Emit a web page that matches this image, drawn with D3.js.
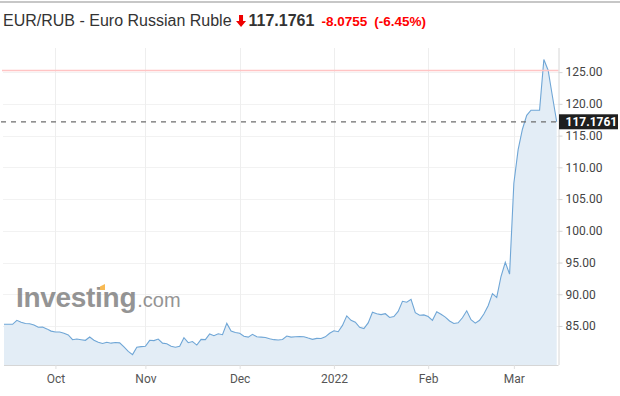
<!DOCTYPE html>
<html lang="en">
<head>
<meta charset="utf-8">
<title>EUR/RUB - Euro Russian Ruble</title>
<script src="https://cdn.jsdelivr.net/npm/d3@7"></script>
<style>
  body { margin: 0; background: #fff; }
  svg { display: block; }
</style>
</head>
<body>
<script>
// header values
var pairName = "EUR/RUB - Euro Russian Ruble";
var lastPrice = 117.1761;
var priceChange = -8.0755;
var changePct = -6.45;
var prevClose = 125.2516;

// daily closes (trading days, mid Sep 2021 -> mid Mar 2022)
var values = [
  85.27, 85.27, 85.27, 85.9, 85.6, 85.4, 85.36, 85.15, 84.8, 84.84,
  84.55, 84.2, 84.05, 84.05, 83.85, 83.6, 82.85, 82.95, 82.85, 82.75,
  83.27, 82.75, 82.45, 82.25, 82.45, 82.3, 82.4, 82.35, 81.7, 81.0,
  80.5, 81.65, 81.75, 81.8, 82.75, 82.7, 82.95, 82.3, 82.2, 81.8,
  81.65, 81.8, 83.16, 82.37, 82.55, 82.0, 82.9, 82.85, 83.75, 83.47,
  83.79, 83.63, 85.42, 84.2, 83.97, 83.85, 83.4, 83.25, 83.69, 83.3,
  83.25, 83.2, 83.0, 82.85, 82.8, 82.88, 83.43, 83.25, 83.3, 83.35,
  83.32, 83.1, 82.9, 83.05, 83.03, 83.3, 83.85, 84.26, 84.1, 85.1,
  86.6, 85.9, 85.6, 84.8, 84.6, 85.5, 87.16, 86.92, 86.8, 86.94,
  86.35, 86.5, 87.3, 88.9, 88.75, 89.2, 87.1, 86.7, 86.75, 86.5,
  85.9, 87.26, 86.85, 86.4, 85.8, 85.4, 85.5, 86.3, 87.4, 86.0,
  85.45, 85.9, 86.9, 88.2, 90.1, 89.5, 92.8, 95.05, 93.17, 107.5,
  112.8, 116.0, 118.2, 119.0, 119.0, 119.0, 127.0, 125.3, 121.2, 117.1761
];

// x axis: index of first trading day in each month
var monthTicks = [12, 33, 55, 77, 99, 119];
var monthLabels = ["Oct", "Nov", "Dec", "2022", "Feb", "Mar"];
var yTicks = [85, 90, 95, 100, 105, 110, 115, 120, 125];

var w = 620, h = 396;
var plotLeft = 4, plotRight = 556.7, axisX = 558.5;
var plotTop = 48, plotBottom = 365;
var sans = "'Liberation Sans', Arial, sans-serif";

var svg = d3.select("body").append("svg")
    .attr("width", w)
    .attr("height", h);

// top border
svg.append("line")
   .attr("x1", 0).attr("x2", w)
   .attr("y1", 2).attr("y2", 2)
   .attr("stroke", "#b5b5b5").attr("stroke-width", 1.5);

// title row
var head = svg.append("text")
   .attr("x", 3).attr("y", 26)
   .attr("font-family", sans)
   .attr("font-size", "16px")
   .attr("fill", "#333")
   .text(pairName);
var headW = head.node().getComputedTextLength();

var ax = 3 + headW + 5;
svg.append("path")
   .attr("d", "M" + (ax + 2.5) + ",15 h4 v6 h3 l-5,6 l-5,-6 h3 z")
   .attr("fill", "#e00");

var priceText = svg.append("text")
   .attr("x", ax + 12).attr("y", 26)
   .attr("font-family", sans)
   .attr("font-size", "16px")
   .attr("font-weight", "bold")
   .attr("fill", "#333")
   .text(lastPrice.toFixed(4));
var pw = priceText.node().getComputedTextLength();

var chg = svg.append("text")
   .attr("x", ax + 12 + pw + 7).attr("y", 26)
   .attr("font-family", sans)
   .attr("font-size", "13.5px")
   .attr("font-weight", "bold")
   .attr("fill", "#f00")
   .text(priceChange.toFixed(4));
var cw = chg.node().getComputedTextLength();
svg.append("text")
   .attr("x", ax + 12 + pw + 7 + cw + 7).attr("y", 26)
   .attr("font-family", sans)
   .attr("font-size", "13.5px")
   .attr("font-weight", "bold")
   .attr("fill", "#f00")
   .text("(" + changePct.toFixed(2) + "%)");

// scales
var xScale = d3.scaleLinear()
   .domain([0, values.length - 1])
   .range([plotLeft, plotRight]);
var yScale = d3.scaleLinear()
   .domain([78.86, 128.8])
   .range([plotBottom, plotTop]);

// grid
svg.append("g").selectAll("line")
   .data(yTicks)
   .enter().append("line")
   .attr("x1", 3).attr("x2", axisX)
   .attr("y1", function(d){ return Math.round(yScale(d)) + 0.5; })
   .attr("y2", function(d){ return Math.round(yScale(d)) + 0.5; })
   .attr("stroke", "#f2f2f2");
svg.append("g").selectAll("line")
   .data(monthTicks)
   .enter().append("line")
   .attr("x1", function(d){ return Math.round(xScale(d)) + 0.5; })
   .attr("x2", function(d){ return Math.round(xScale(d)) + 0.5; })
   .attr("y1", plotTop).attr("y2", plotBottom)
   .attr("stroke", "#eeeeee");

// watermark
var wm = svg.append("g").attr("opacity", 0.78);
var inv = wm.append("text")
   .attr("x", 16).attr("y", 307)
   .attr("font-family", sans)
   .attr("font-size", "28px")
   .attr("font-weight", "bold")
   .attr("letter-spacing", "-0.3")
   .attr("fill", "#777")
   .text("Investing");
var invW = inv.node().getComputedTextLength();
wm.append("text")
   .attr("x", 16 + invW + 1).attr("y", 307)
   .attr("font-family", sans)
   .attr("font-size", "20px")
   .attr("fill", "#777")
   .text(".com");
wm.append("path")
   .attr("d", "M100,290 l0,-3.5 l5,-2.5 l0,6 z")
   .attr("fill", "#f6a623");

// area + line
var area = d3.area()
   .x(function(d, i){ return xScale(i); })
   .y0(plotBottom)
   .y1(function(d){ return yScale(d); });
var line = d3.line()
   .x(function(d, i){ return xScale(i); })
   .y(function(d){ return yScale(d); });

svg.append("path")
   .datum(values)
   .attr("d", area)
   .attr("fill", "#e3edf6");
svg.append("path")
   .datum(values)
   .attr("d", line)
   .attr("fill", "none")
   .attr("stroke", "#6fa6d6")
   .attr("stroke-width", 1.1);

// previous close line
svg.append("line")
   .attr("x1", 2).attr("x2", axisX)
   .attr("y1", yScale(prevClose)).attr("y2", yScale(prevClose))
   .attr("stroke", "#ffc4c4").attr("stroke-width", 1.5);

// last price dashed line
svg.append("line")
   .attr("x1", 1).attr("x2", axisX)
   .attr("y1", yScale(lastPrice)).attr("y2", yScale(lastPrice))
   .attr("stroke", "#6e6e6e").attr("stroke-width", 1.3)
   .attr("stroke-dasharray", "5,5");

// x axis
var xAxis = d3.axisBottom(xScale)
   .tickValues(monthTicks)
   .tickFormat(function(d, i){ return monthLabels[i]; })
   .tickSize(4)
   .tickSizeOuter(0);
var gx = svg.append("g")
   .attr("transform", "translate(0," + plotBottom + ")")
   .call(xAxis);
gx.select(".domain").attr("stroke", "#d6d6d6").attr("d", "M" + plotLeft + ",0.5H" + axisX);
gx.selectAll(".tick line").attr("stroke", "#e0e0e0");
gx.selectAll(".tick text")
   .attr("y", 9)
   .attr("dy", "0.71em")
   .attr("font-family", "Roboto, sans-serif")
   .attr("font-size", "12px")
   .attr("fill", "#555");

// y axis (right)
var yAxis = d3.axisRight(yScale)
   .tickValues(yTicks)
   .tickFormat(d3.format(".2f"))
   .tickSize(4)
   .tickSizeOuter(0);
var gy = svg.append("g")
   .attr("transform", "translate(" + axisX + ",0)")
   .call(yAxis);
gy.select(".domain").attr("stroke", "#d6d6d6").attr("d", "M0.5," + plotTop + "V" + plotBottom);
gy.selectAll(".tick line").attr("stroke", "#d6d6d6");
gy.selectAll(".tick text")
   .attr("x", 7)
   .attr("font-family", "Roboto, sans-serif")
   .attr("font-size", "12px")
   .attr("fill", "#444");

// last price tag
var tagY = yScale(lastPrice);
svg.append("rect")
   .attr("x", axisX + 0.5).attr("y", tagY - 7.5)
   .attr("width", 59).attr("height", 15)
   .attr("fill", "#1f1f1f");
svg.append("text")
   .attr("x", axisX + 7).attr("y", tagY)
   .attr("dy", "0.36em")
   .attr("font-family", "Roboto, sans-serif")
   .attr("font-size", "12px")
   .attr("font-weight", "bold")
   .attr("fill", "#fff")
   .text(lastPrice.toFixed(4));
</script>
</body>
</html>
